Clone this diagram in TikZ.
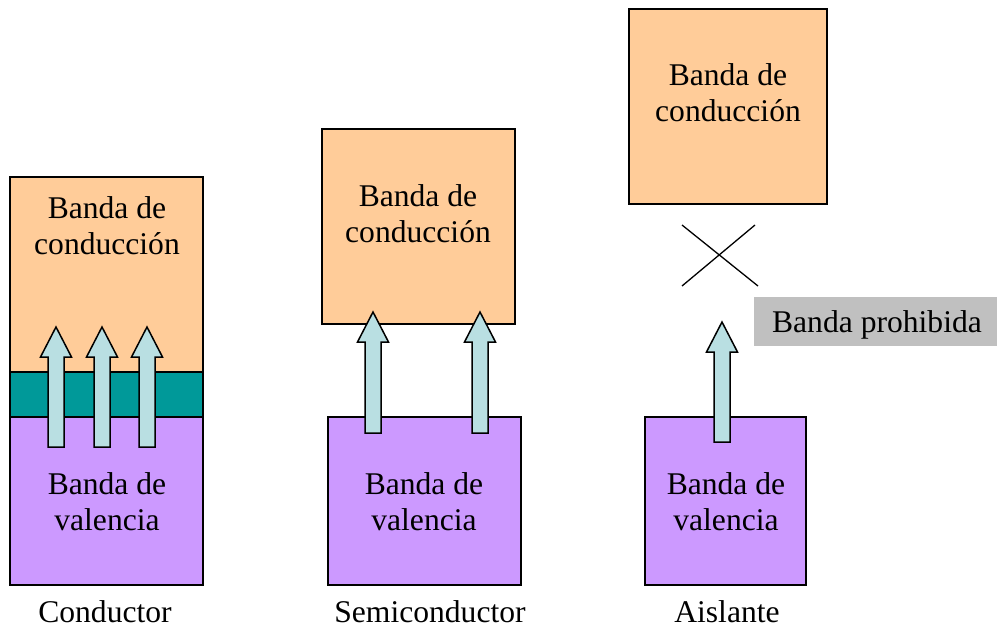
\documentclass[tikz,border=0pt]{standalone}
\usepackage{fontspec}
\setmainfont{Liberation Serif}
\definecolor{condband}{HTML}{FFCC99}
\definecolor{valband}{HTML}{CC99FF}
\definecolor{overlap}{HTML}{009999}
\definecolor{jumpfill}{HTML}{B9DFE2}
\definecolor{gapgray}{HTML}{C0C0C0}
\tikzset{
  band/.style={draw=black, line width=1.8pt},
  bandtext/.style={align=center, font=\fontsize{31.6}{36}\selectfont, inner sep=0pt},
  jump/.style={draw=black, fill=jumpfill, line width=1.5pt, line join=miter},
}
% upward block arrow: centre x, bottom y, tip y
\newcommand\bandjump[3]{%
  \draw[jump] (#1-8,#2) -- (#1-8,#3+30) -- (#1-15.5,#3+30) -- (#1,#3)
    -- (#1+15.5,#3+30) -- (#1+8,#3+30) -- (#1+8,#2) -- cycle;}
\begin{document}
\begin{tikzpicture}[x=1pt,y=-1pt]
\useasboundingbox (0,0) rectangle (997,630);

% Conductor
\path[band, fill=condband] (10,177) rectangle (203,372);
\path[band, fill=valband] (10,417) rectangle (203,585);
\path[band, fill=overlap] (10,372) rectangle (203,417);
\node[bandtext] (c1) at (107,226) {Banda de\\conducción};
\node[bandtext] (v1) at (107,502) {Banda de\\valencia};
\bandjump{56}{447}{327}
\bandjump{102}{447}{327}
\bandjump{147}{447}{327}
\node[bandtext] (l1) at (105,612) {Conductor};

% Semiconductor
\path[band, fill=condband] (322,129) rectangle (515,324);
\path[band, fill=valband] (328,417) rectangle (521,585);
\node[bandtext] (c2) at (418,214) {Banda de\\conducción};
\node[bandtext] (v2) at (424,502) {Banda de\\valencia};
\bandjump{373}{433}{312}
\bandjump{480}{433}{312}
\node[bandtext] (l2) at (430,612) {Semiconductor};

% Aislante
\path[band, fill=condband] (629,9) rectangle (827,204);
\path[band, fill=valband] (645,417) rectangle (806,585);
\node[bandtext] (c3) at (728,93) {Banda de\\conducción};
\node[bandtext] (v3) at (726,502) {Banda de\\valencia};
\draw[line width=1.3pt] (682,225) -- (758,286);
\draw[line width=1.3pt] (755,225) -- (682,286);
\bandjump{722}{442}{322}
\fill[gapgray] (754,297) rectangle (997,346);
\node[bandtext] (gap) at (877,325) {Banda prohibida};
\node[bandtext] (l3) at (727,612) {Aislante};
\end{tikzpicture}
\end{document}
